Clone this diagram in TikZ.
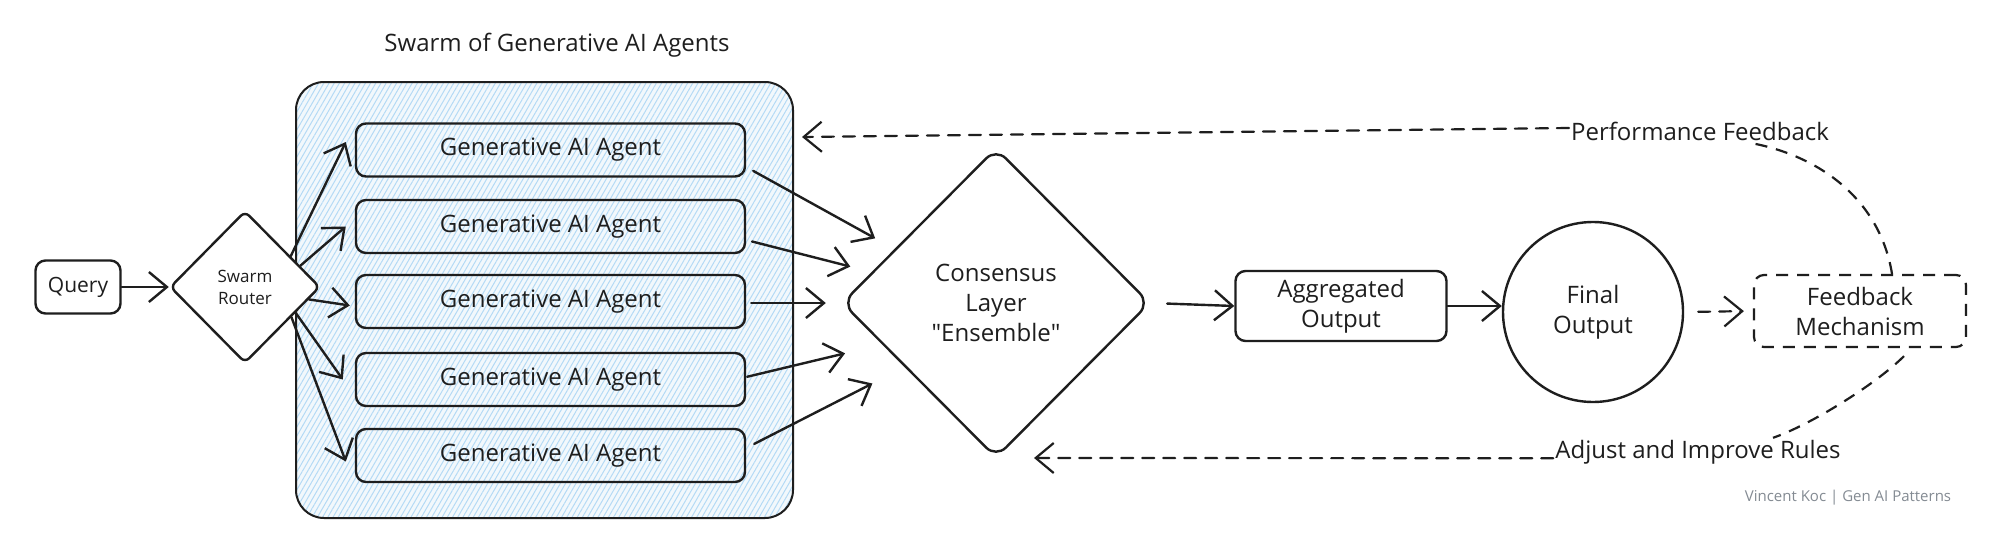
\documentclass[tikz,border=0pt]{standalone}
\usepackage{fontspec}
\setmainfont{Open Sans}
\newfontfamily\plainq{Open Sans}
\usetikzlibrary{shapes.geometric,arrows.meta,patterns.meta}
\definecolor{ink}{HTML}{1E1E1E}
\definecolor{hatchline}{HTML}{B4DAF5}
\definecolor{hatchbg}{HTML}{F2F8FC}
\definecolor{wmgray}{HTML}{848B93}
\begin{document}
\begin{tikzpicture}[x=1pt,y=-1pt,
  font=\fontsize{24}{30}\selectfont,
  every node/.style={text=ink},
  ln/.style={draw=ink,line width=2.4pt},
  rbox/.style={ln,rounded corners=10pt,inner sep=0pt,align=center},
  dmd/.style={ln,diamond,inner sep=0pt,align=center,fill=white},
  arr/.style={draw=ink,line width=2.4pt,line cap=round,-{Straight Barb[length=18pt,width=30pt]}},
  dsh/.style={draw=ink,line width=2.2pt,dash pattern=on 12pt off 9pt},
  hatched/.style={preaction={fill=hatchbg},pattern={Lines[angle=60,distance=4.5pt,line width=1pt]},pattern color=hatchline},
  lbl/.style={inner sep=2pt}
]
\useasboundingbox (0,0) rectangle (2000,554);
\fill[white] (0,0) rectangle (2000,554);

% container and title
\node[draw=ink,line width=2pt,hatched,rounded corners=28pt,minimum width=497pt,minimum height=436pt,inner sep=0pt] (cont) at (544.5,300) {};
\node (title) at (557,45) {Swarm of Generative AI Agents};

% left part
\node[rbox,fill=white,minimum width=85pt,minimum height=53pt,font=\fontsize{21}{26}\selectfont] (query) at (78,287) {Query};
\node[dmd,minimum width=150pt,minimum height=152pt,rounded corners=6pt,font=\fontsize{17}{22}\selectfont] (router) at (245,287) {Swarm\\Router};

% agents
\foreach \i/\y in {1/150,2/226.5,3/301.5,4/379.5,5/455.5}{
  \node[rbox,minimum width=389pt,minimum height=53pt] (a\i) at (550.5,\y) {Generative AI Agent};
}

% consensus etc.
\node[dmd,minimum width=308pt,minimum height=310pt,rounded corners=14pt] (cons) at (996,303) {Consensus\\Layer\\{\plainq"}Ensemble{\plainq"}};
\node[rbox,fill=white,minimum width=211pt,minimum height=70pt] (agg) at (1341,306) {Aggregated\\Output};
\node[ln,circle,minimum size=180pt,inner sep=0pt,align=center] (final) at (1593,312) {Final\\Output};
\node[rbox,dash pattern=on 12pt off 9pt,line width=2.2pt,minimum width=212pt,minimum height=72pt] (fb) at (1860,311) {Feedback\\Mechanism};

\node[lbl] (pf) at (1700,131) {Performance Feedback};
\node[lbl] (ad) at (1698,452) {Adjust and Improve Rules};
\node[text=wmgray,font=\fontsize{15}{17}\selectfont] (wm) at (1848,498) {Vincent Koc | Gen AI Patterns};

\coordinate (pftip) at (802,137);
\coordinate (adtip) at (1034,458);

% connectors
\draw[arr] (query) -- (router);
\draw[arr] (router.34) -- ([xshift=-9pt,yshift=8pt]a1.west);
\draw[arr] (router.21) -- ([xshift=-9pt]a2.west);
\draw[arr] (router.-11) -- ([xshift=-5pt,yshift=-4pt]a3.west);
\draw[arr] (router.-27) -- ([xshift=-12pt]a4.west);
\draw[arr] (router.-33) -- ([xshift=-9pt,yshift=-6pt]a5.west);

\draw[arr,shorten <=8pt,shorten >=22pt] ([yshift=-17pt]a1.east) -- (cons.152);
\draw[arr,shorten <=6pt,shorten >=22pt] ([yshift=-13.5pt]a2.east) -- (cons.166);
\draw[arr,shorten <=5pt,shorten >=15pt] ([yshift=-1.5pt]a3.east) -- (cons.180);
\draw[arr,shorten <=1pt,shorten >=38pt] ([yshift=2.5pt]a4.east) -- (cons.200);
\draw[arr,shorten <=9pt,shorten >=36pt] ([yshift=7.5pt]a5.east) -- (cons.215);

\draw[arr,shorten <=16pt] (cons.east) -- (agg.west);
\draw[arr] (agg.east) -- (agg.east -| final.west);
\draw[arr,dsh,shorten <=14pt,shorten >=9pt] (final.east) -- (fb.west);

\draw[dsh] ([xshift=32pt]fb.north) .. controls (1880,200) and (1820,155) .. ([xshift=48pt]pf.south);
\draw[arr,dsh] ([yshift=3pt]pf.west) -- (pftip);
\draw[dsh] ([xshift=44pt,yshift=-8pt]fb.south) .. controls (1875,385) and (1810,425) .. ([xshift=75pt]ad.north);
\draw[arr,dsh] (ad.base west) -- (adtip);
\end{tikzpicture}
\end{document}
